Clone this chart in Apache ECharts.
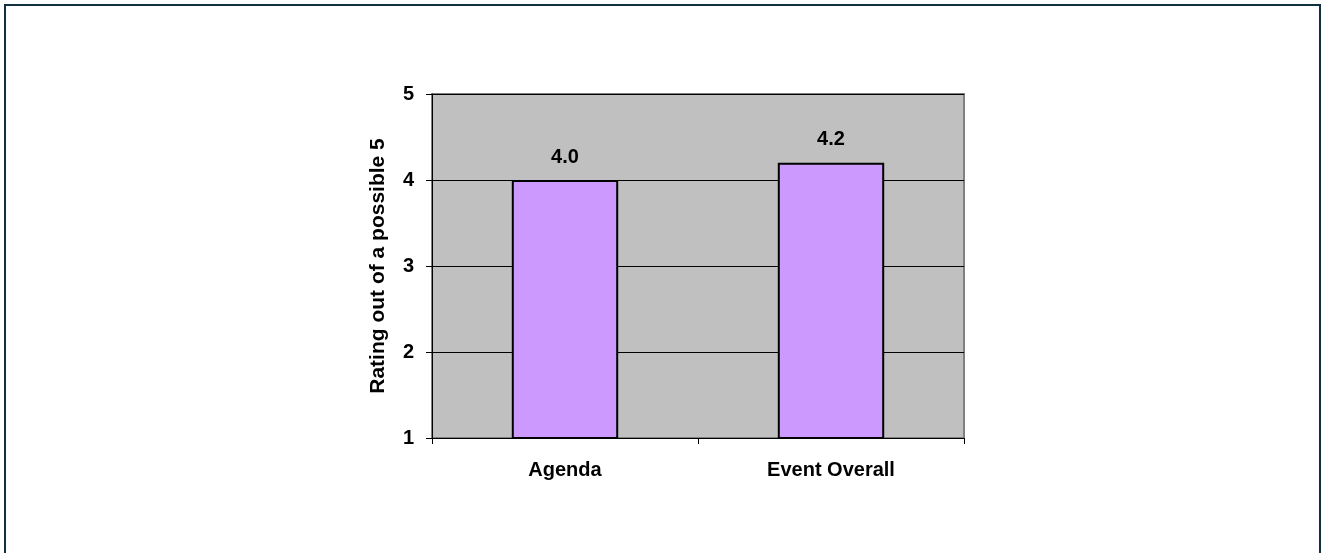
<!DOCTYPE html>
<html>
<head>
<meta charset="utf-8">
<script src="https://cdn.jsdelivr.net/npm/echarts@6/dist/echarts.min.js"></script>
<style>
html,body{margin:0;padding:0;background:#fff;}
#c{width:1321px;height:553px;}
</style>
</head>
<body>
<div id="c"></div>
<script>
const categories = ["Agenda", "Event Overall"];
const ratings = [4.0, 4.2];
const yAxisName = "Rating out of a possible 5";

const chart = echarts.init(document.getElementById('c'), null, {renderer: 'canvas'});
const fontBase = {fontFamily: 'Liberation Sans, Arial, sans-serif', fontWeight: 'bold', fontSize: 20, color: '#000'};
chart.setOption({
  animation: false,
  backgroundColor: '#fff',
  graphic: [{
    type: 'rect',
    shape: {x: 5, y: 5, width: 1315, height: 600},
    style: {fill: 'none', stroke: '#10303f', lineWidth: 2},
    silent: true
  }],
  grid: {
    left: 432, top: 94, width: 532, height: 344,
    show: true, backgroundColor: '#c0c0c0', borderColor: '#808080', borderWidth: 2
  },
  xAxis: {
    type: 'category',
    data: categories,
    boundaryGap: true,
    axisLine: {show: true, lineStyle: {color: '#000', width: 1}},
    axisTick: {show: true, length: 6, lineStyle: {color: '#000'}},
    axisLabel: Object.assign({margin: 22}, fontBase),
    splitLine: {show: false}
  },
  yAxis: {
    type: 'value',
    min: 1, max: 5, interval: 1,
    name: yAxisName,
    nameLocation: 'middle',
    nameGap: 43,
    nameRotate: 90,
    nameTextStyle: Object.assign({}, fontBase, {fontSize: 21}),
    axisLine: {show: true, lineStyle: {color: '#000', width: 1}},
    axisTick: {show: true, length: 6, lineStyle: {color: '#000'}},
    axisLabel: Object.assign({margin: 18}, fontBase),
    splitLine: {show: true, lineStyle: {color: '#000', width: 1}}
  },
  series: [{
    type: 'bar',
    data: ratings,
    barWidth: '40%',
    itemStyle: {color: '#cc99ff', borderColor: '#000', borderWidth: 2},
    label: Object.assign({
      show: true, position: 'top', distance: 13,
      formatter: p => p.value.toFixed(1)
    }, fontBase)
  }]
});
</script>
</body>
</html>
